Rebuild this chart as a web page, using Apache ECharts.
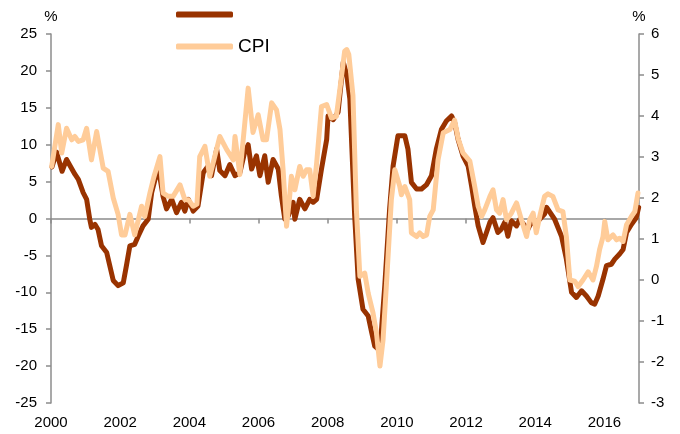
<!DOCTYPE html>
<html><head><meta charset="utf-8">
<script src="https://cdn.jsdelivr.net/npm/echarts@6/dist/echarts.min.js"></script>
<style>html,body{margin:0;padding:0;background:#fff}#c{width:680px;height:434px}</style>
</head><body><div id="c"></div>
<script>
// Dark series (left axis, %) — unnamed in the legend
const ppiYears = [2000.03,2000.16,2000.32,2000.45,2000.69,2000.79,2000.93,2001.03,2001.12,2001.17,2001.27,2001.36,2001.46,2001.61,2001.70,2001.80,2001.94,2002.09,2002.18,2002.28,2002.42,2002.52,2002.66,2002.81,2002.91,2003.10,2003.24,2003.34,2003.49,2003.63,2003.77,2003.87,2003.97,2004.11,2004.25,2004.40,2004.54,2004.64,2004.79,2004.88,2005.03,2005.17,2005.32,2005.46,2005.60,2005.70,2005.80,2005.94,2006.04,2006.18,2006.28,2006.42,2006.57,2006.66,2006.76,2006.86,2007.00,2007.05,2007.19,2007.34,2007.48,2007.58,2007.68,2007.82,2007.97,2008.01,2008.16,2008.30,2008.45,2008.55,2008.64,2008.78,2008.88,2009.02,2009.17,2009.27,2009.36,2009.46,2009.55,2009.65,2009.79,2009.89,2010.03,2010.23,2010.32,2010.42,2010.57,2010.71,2010.86,2011.00,2011.14,2011.29,2011.43,2011.58,2011.67,2011.77,2011.91,2012.06,2012.16,2012.25,2012.35,2012.49,2012.59,2012.69,2012.78,2012.92,2013.02,2013.12,2013.21,2013.31,2013.46,2013.55,2013.70,2013.79,2013.89,2013.99,2014.13,2014.27,2014.33,2014.56,2014.76,2014.90,2015.05,2015.19,2015.34,2015.48,2015.62,2015.72,2015.82,2015.96,2016.06,2016.20,2016.30,2016.44,2016.54,2016.64,2016.78,2016.92,2016.99];
const ppiValues = [7.0,9.0,6.4,8.0,6.0,5.3,3.5,2.6,-0.1,-1.2,-0.8,-1.5,-3.7,-4.6,-6.4,-8.4,-9.1,-8.7,-6.4,-3.7,-3.5,-2.4,-1.0,-0.1,3.5,7.0,3.0,1.3,2.6,0.8,2.2,1.0,2.6,1.0,1.7,6.2,7.1,5.8,9.4,6.5,5.8,7.3,5.8,6.2,9.0,10.0,6.7,8.5,5.8,8.5,4.9,8.0,6.7,3.1,-0.1,0.35,2.2,-0.1,2.6,1.3,2.6,2.2,2.6,6.7,10.7,13.9,13.4,14.4,21.2,19.5,16.2,0.35,-8.2,-12.3,-13.2,-15.4,-17.3,-17.7,-15.4,-9.1,1.3,7.1,11.2,11.2,9.4,4.9,4.0,4.0,4.6,5.8,9.4,12.1,13.2,13.9,13.0,10.7,8.5,7.1,4.4,1.7,-1.0,-3.25,-1.9,-0.5,0.1,-1.9,-1.45,-0.5,-2.4,-0.3,-1.0,-0.1,-1.0,-1.45,-0.5,-0.8,-0.1,0.6,1.5,-0.1,-2.4,-5.5,-10.0,-10.7,-9.8,-10.5,-11.4,-11.6,-10.5,-8.2,-6.4,-6.2,-5.5,-4.8,-4.2,-1.9,-0.8,0.1,1.5];

// CPI (right axis, %)
const cpiYears = [2000.02,2000.21,2000.31,2000.45,2000.60,2000.69,2000.79,2000.93,2001.03,2001.17,2001.32,2001.51,2001.65,2001.80,2001.94,2002.04,2002.14,2002.28,2002.42,2002.62,2002.71,2002.86,2002.97,2003.15,2003.24,2003.39,2003.53,2003.73,2003.87,2003.97,2004.11,2004.22,2004.30,2004.45,2004.59,2004.88,2005.08,2005.27,2005.32,2005.46,2005.70,2005.84,2005.99,2006.13,2006.23,2006.38,2006.52,2006.62,2006.71,2006.81,2006.90,2006.95,2007.05,2007.19,2007.29,2007.39,2007.48,2007.58,2007.68,2007.82,2007.97,2008.11,2008.25,2008.35,2008.49,2008.55,2008.61,2008.73,2008.83,2008.93,2009.07,2009.17,2009.31,2009.41,2009.51,2009.60,2009.70,2009.84,2009.94,2010.08,2010.13,2010.23,2010.37,2010.42,2010.57,2010.66,2010.76,2010.86,2010.95,2011.05,2011.19,2011.34,2011.53,2011.67,2011.77,2011.91,2012.11,2012.25,2012.35,2012.45,2012.54,2012.69,2012.78,2012.88,2012.97,2013.07,2013.17,2013.31,2013.46,2013.60,2013.75,2013.84,2013.94,2014.03,2014.13,2014.27,2014.37,2014.51,2014.66,2014.80,2014.90,2015.00,2015.14,2015.24,2015.38,2015.53,2015.67,2015.77,2015.86,2015.96,2016.01,2016.10,2016.25,2016.35,2016.44,2016.54,2016.64,2016.78,2016.88,2016.97];
const cpiValues = [2.77,3.79,3.1,3.7,3.42,3.5,3.38,3.42,3.7,2.93,3.62,2.73,2.65,2.0,1.6,1.1,1.1,1.6,1.1,1.8,1.55,2.12,2.5,3.01,2.12,2.04,2.04,2.32,1.96,1.96,1.8,1.85,3.01,3.26,2.53,3.5,3.18,2.93,3.5,2.57,4.68,3.6,4.03,3.42,3.42,4.32,4.15,3.67,2.69,1.31,2.04,2.53,2.2,2.77,2.53,2.69,2.69,2.04,2.85,4.23,4.28,3.95,3.99,4.64,5.58,5.62,5.5,4.5,1.7,0.09,0.17,-0.32,-0.8,-1.29,-2.1,-1.46,-0.07,1.96,2.69,2.3,2.08,2.28,1.96,1.15,1.06,1.15,1.06,1.1,1.55,1.71,2.93,3.59,3.67,3.9,3.45,3.1,2.9,2.28,1.8,1.55,1.71,2.04,2.2,1.71,1.63,1.96,1.47,1.63,1.88,1.47,1.06,1.47,1.63,1.15,1.55,2.04,2.1,2.04,1.71,1.67,1.06,0.0,-0.03,-0.16,0.0,0.2,0.0,0.33,0.74,1.06,1.43,0.98,1.1,0.98,1.02,0.94,1.35,1.55,1.67,2.12];

const seriesNames = [' ', 'CPI'];
const leftTicks = [-25,-20,-15,-10,-5,0,5,10,15,20,25];
const rightTicks = [-3,-2,-1,0,1,2,3,4,5,6];
const yearTicks = [2000,2002,2004,2006,2008,2010,2012,2014,2016];
const yearMax = 2017;

const ppiData = ppiYears.map((t, i) => [t, ppiValues[i]]);
const cpiData = cpiYears.map((t, i) => [t, cpiValues[i]]);

const axisGray = '#8C8C8C';
const font = 'Liberation Sans, Arial, sans-serif';

const chart = echarts.init(document.getElementById('c'), null, {renderer: 'canvas'});
chart.setOption({
  animation: false,
  backgroundColor: '#fff',
  textStyle: {fontFamily: font},
  grid: {left: 51, right: 41, top: 34, bottom: 31, containLabel: false},
  legend: {
    left: 176, top: 5, orient: 'vertical', itemGap: 13, padding: 0,
    itemWidth: 57, itemHeight: 6, icon: 'roundRect',
    data: seriesNames,
    textStyle: {fontSize: 19, color: '#000', fontFamily: font},
    selectedMode: false
  },
  xAxis: [
    {
      type: 'value', position: 'bottom', min: yearTicks[0], max: yearMax,
      interval: yearTicks[1] - yearTicks[0],
      axisLine: {show: false, onZero: false},
      axisTick: {show: false},
      splitLine: {show: false},
      axisLabel: {fontSize: 15, color: '#000', margin: 12, fontFamily: font,
        showMaxLabel: false, formatter: v => String(v)}
    },
    {
      type: 'value', position: 'top', min: yearTicks[0], max: yearMax,
      interval: yearTicks[1] - yearTicks[0],
      axisLine: {show: true, onZero: true, onZeroAxisIndex: 0, lineStyle: {color: axisGray, width: 1.5}},
      axisTick: {show: true, inside: true, length: 5, lineStyle: {color: axisGray, width: 1.5}},
      axisLabel: {show: false},
      splitLine: {show: false}
    }
  ],
  yAxis: [
    {
      type: 'value', position: 'left', min: leftTicks[0], max: leftTicks[leftTicks.length - 1],
      interval: leftTicks[1] - leftTicks[0],
      name: '%', nameLocation: 'end', nameGap: 10,
      nameTextStyle: {fontSize: 15, color: '#000', align: 'center', fontFamily: font},
      axisLine: {show: true, lineStyle: {color: axisGray, width: 1.5}},
      axisTick: {show: true, length: 5, lineStyle: {color: axisGray, width: 1.5}},
      splitLine: {show: false},
      axisLabel: {fontSize: 15, color: '#000', margin: 14, fontFamily: font}
    },
    {
      type: 'value', position: 'right', min: rightTicks[0], max: rightTicks[rightTicks.length - 1],
      interval: rightTicks[1] - rightTicks[0],
      name: '%', nameLocation: 'end', nameGap: 10,
      nameTextStyle: {fontSize: 15, color: '#000', align: 'center', fontFamily: font},
      axisLine: {show: true, lineStyle: {color: axisGray, width: 1.5}},
      axisTick: {show: true, length: 5, lineStyle: {color: axisGray, width: 1.5}},
      splitLine: {show: false},
      axisLabel: {fontSize: 15, color: '#000', margin: 12, fontFamily: font}
    }
  ],
  series: [
    {
      name: seriesNames[0], type: 'line', xAxisIndex: 0, yAxisIndex: 0,
      data: ppiData, showSymbol: false, symbol: 'none',
      color: '#993300',
      lineStyle: {color: '#993300', width: 5, cap: 'round', join: 'round'}
    },
    {
      name: seriesNames[1], type: 'line', xAxisIndex: 0, yAxisIndex: 1,
      data: cpiData, showSymbol: false, symbol: 'none',
      color: '#FFCC99',
      lineStyle: {color: '#FFCC99', width: 5, cap: 'round', join: 'round'}
    }
  ]
});
</script>
</body></html>
